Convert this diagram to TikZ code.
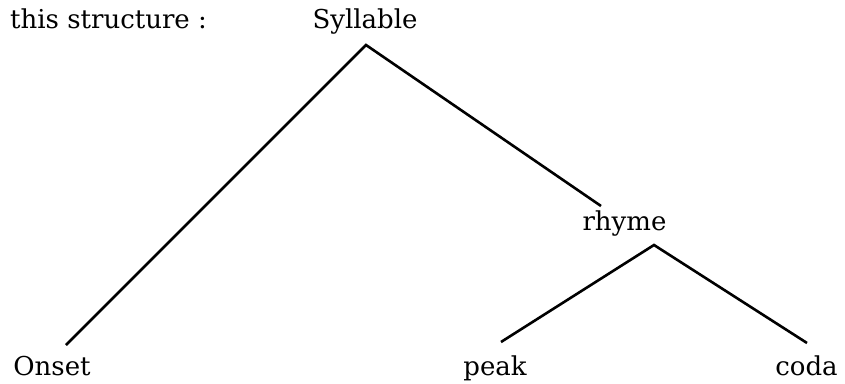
\documentclass[tikz,border=0pt]{standalone}
\usepackage{fontspec}
\setmainfont{DejaVu Serif}
\usetikzlibrary{calc}
\begin{document}
\begin{tikzpicture}[x=1pt,y=1pt,
  lbl/.style={inner sep=0pt, anchor=base, font=\fontsize{26}{30}\selectfont},
  branch/.style={line width=2.6pt}]
\useasboundingbox (0,0) rectangle (845,383);
\node[lbl, anchor=base west] (intro) at (10,354) {this structure :};
\node[lbl] (syl) at (365,354) {Syllable};
\node[lbl] (rhyme) at (624.5,152) {rhyme};
\node[lbl] (onset) at (52,8) {Onset};
\node[lbl] (peak) at (495,8) {peak};
\node[lbl] (coda) at (806.5,8) {coda};
\coordinate (sylapex) at ($(syl.base)+(1,-16)$);
\coordinate (rhytop) at ($(rhyme.base)+(-23.5,25)$);
\coordinate (rhyapex) at ($(rhyme.base)+(29.5,-14)$);
\coordinate (onstop) at ($(onset.base)+(14,30)$);
\coordinate (peaktop) at ($(peak.base)+(6,33)$);
\coordinate (codatop) at ($(coda.base)+(0.5,32)$);
\draw[branch] (rhytop) -- (sylapex) -- (onstop);
\draw[branch] (peaktop) -- (rhyapex) -- (codatop);
\end{tikzpicture}
\end{document}
